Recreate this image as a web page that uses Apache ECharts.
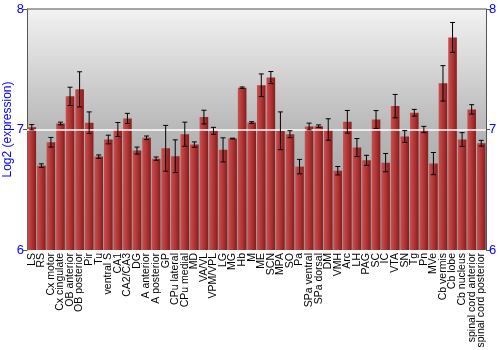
<!DOCTYPE html>
<html><head><meta charset="utf-8">
<script src="https://cdn.jsdelivr.net/npm/echarts@6/dist/echarts.min.js"></script>
<style>html,body{margin:0;padding:0;background:#fff}#c{width:500px;height:350px}</style>
</head><body><div id="c"></div>
<script>
var categories = ["LS","RS","Cx motor","Cx cingulate","OB anterior","OB posterior","Pir","Tu","ventral S","CA1","CA2/CA3","DG","A anterior","A posterior","GP","CPu lateral","CPu medial","MD","VA/VL","VPM/VPL","LG","MG","Hb","M","ME","SCN","MPA","SO","Pa","SPa ventral","SPa dorsal","DM","VMH","Arc","LH","PAG","SC","IC","VTA","SN","Tg","Pn","MVe","Cb vermis","Cb lobe","Cb nucleus","spinal cord anterior","spinal cord posterior"];
var values = [7.019,6.70,6.894,7.05,7.275,7.333,7.056,6.775,6.917,7.0,7.092,6.825,6.931,6.758,6.844,6.778,6.961,6.875,7.103,6.989,6.831,6.925,7.347,7.058,7.367,7.431,6.989,6.961,6.692,7.025,7.028,7.0,6.658,7.064,6.85,6.744,7.083,6.725,7.194,6.942,7.139,7.0,6.717,7.383,7.764,6.917,7.167,6.886];
var errors = [0.022,0.015,0.04,0.011,0.076,0.146,0.09,0.014,0.036,0.058,0.042,0.029,0.015,0.014,0.19,0.136,0.1,0.022,0.057,0.029,0.1,0.003,0.006,0.007,0.094,0.05,0.157,0.029,0.06,0.028,0.01,0.089,0.035,0.094,0.075,0.042,0.074,0.076,0.097,0.049,0.028,0.026,0.092,0.147,0.124,0.057,0.039,0.024];
var yTicks = [6,7,8];

var errData = values.map(function(v,i){return [i, v-errors[i], v+errors[i]];});
var chart = echarts.init(document.getElementById('c'), null, {renderer:'canvas'});
var yAxisCommon = {
  type:'value', min:6, max:8, interval:1,
  axisLine:{show:true, lineStyle:{color:'#555'}},
  axisTick:{show:true, length:4, lineStyle:{color:'#555'}},
  axisLabel:{color:'#0000ff', fontSize:13, fontFamily:'Liberation Sans', margin:3,
    formatter:function(v){return yTicks.indexOf(v)>=0?String(v):'';}},
  splitLine:{show:false}
};
chart.setOption({
  animation:false,
  grid:{left:27, right:14, top:9, bottom:100, show:true, borderWidth:0, containLabel:false, outerBoundsMode:'none',
    backgroundColor:{type:'linear',x:0,y:0,x2:0,y2:1,colorStops:[{offset:0,color:'#f2f2f2'},{offset:0.5,color:'#b8b8b8'},{offset:1,color:'#999999'}]}},
  xAxis:{type:'category', data:categories,
    axisLine:{show:false}, axisTick:{show:false},
    axisLabel:{rotate:90, interval:0, fontSize:10.5, color:'#000', fontFamily:'Liberation Sans', margin:3}},
  yAxis:[
    Object.assign({}, yAxisCommon, {position:'left', name:'Log2 (expression)', nameLocation:'middle', nameGap:13, nameMoveOverlap:false,
      nameTextStyle:{color:'#0000ff', fontSize:12, fontFamily:'Liberation Sans'}}),
    Object.assign({}, yAxisCommon, {position:'right'})
  ],
  series:[
    {type:'bar', data:values, barCategoryGap:'10%',
      itemStyle:{color:{type:'linear',x:0,y:0,x2:1,y2:0,colorStops:[{offset:0,color:'#c85050'},{offset:0.5,color:'#b03636'},{offset:1,color:'#861c1c'}]}},
      markLine:{silent:true, symbol:'none', label:{show:false},
        lineStyle:{color:'#ffffff', width:1.5, type:'solid'}, data:[{yAxis:7}]}
    },
    {type:'line', data:[], markLine:{silent:true, symbol:'none', label:{show:false},
        lineStyle:{color:'#888', width:1.5, type:'solid'}, data:[{yAxis:8}]}},
    {type:'custom', data:errData, z:5,
      renderItem:function(params, api){
        var x = api.value(0);
        var lo = api.coord([x, api.value(1)]);
        var hi = api.coord([x, api.value(2)]);
        var hw = 2.5;
        var st = {stroke:'#000', lineWidth:1};
        return {type:'group', children:[
          {type:'line', shape:{x1:lo[0],y1:lo[1],x2:hi[0],y2:hi[1]}, style:st},
          {type:'line', shape:{x1:lo[0]-hw,y1:lo[1],x2:lo[0]+hw,y2:lo[1]}, style:st},
          {type:'line', shape:{x1:hi[0]-hw,y1:hi[1],x2:hi[0]+hw,y2:hi[1]}, style:st}
        ]};
      }}
  ]
});
</script></body></html>
